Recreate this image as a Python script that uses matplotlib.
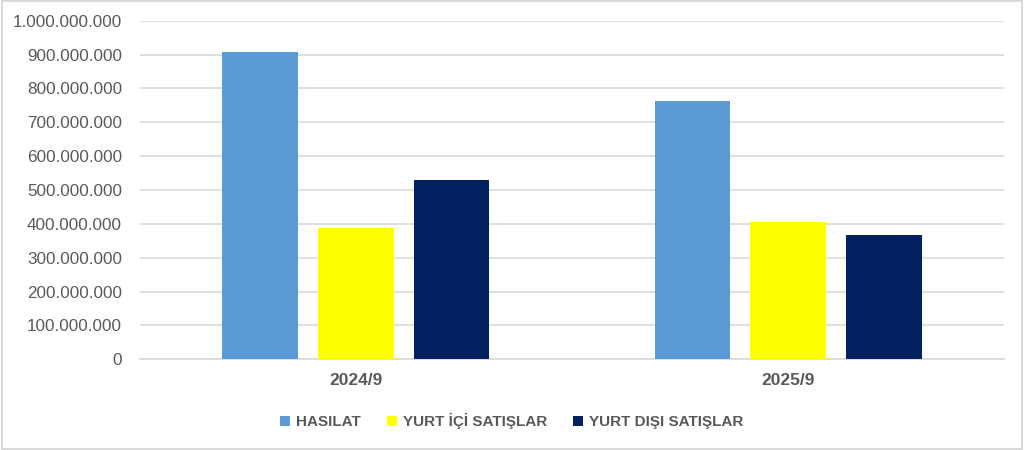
import matplotlib
matplotlib.use("Agg")
import matplotlib.pyplot as plt
from matplotlib.patches import Rectangle
from matplotlib.ticker import FuncFormatter, MultipleLocator
import numpy as np

CATEGORIES = ["2024/9", "2025/9"]
SERIES_NAMES = ["HASILAT", "YURT İÇİ SATIŞLAR", "YURT DIŞI SATIŞLAR"]
HASILAT = [907_000_000, 764_000_000]
YURT_ICI = [388_000_000, 405_000_000]
YURT_DISI = [529_000_000, 366_000_000]
COLORS = ["#5B9BD5", "#FFFF00", "#002060"]

TEXT_COLOR = "#595959"
GRID_COLOR = "#D9D9D9"


def dot_thousands(v, _pos):
    return f"{int(round(v)):,}".replace(",", ".")


def main() -> None:
    plt.rcParams["font.family"] = ["Liberation Sans", "DejaVu Sans"]

    fig = plt.figure(figsize=(10.24, 4.5), dpi=100)
    ax = fig.add_axes([0.1367, 0.2016, 0.8438, 0.7524])

    x = np.arange(len(CATEGORIES))
    width = 0.174
    step = 0.222
    all_series = [HASILAT, YURT_ICI, YURT_DISI]
    for i, (name, values, color) in enumerate(zip(SERIES_NAMES, all_series, COLORS)):
        ax.bar(x + (i - 1) * step, values, width=width, color=color,
               label=name, zorder=3)

    ax.set_xlim(-0.5, 1.5)
    ax.set_ylim(0, 1_000_000_000)
    ax.yaxis.set_major_locator(MultipleLocator(100_000_000))
    ax.yaxis.set_major_formatter(FuncFormatter(dot_thousands))
    ax.grid(axis="y", color=GRID_COLOR, linewidth=1.2, zorder=0)

    for side in ["top", "right", "left"]:
        ax.spines[side].set_visible(False)
    ax.spines["bottom"].set_color(GRID_COLOR)
    ax.spines["bottom"].set_linewidth(1.2)

    ax.set_xticks(x)
    ax.set_xticklabels(CATEGORIES, fontweight="bold")
    ax.tick_params(axis="both", length=0, colors=TEXT_COLOR)
    ax.tick_params(axis="x", pad=10, labelsize=12.5)
    ax.tick_params(axis="y", pad=13, labelsize=12.3)

    leg = fig.legend(loc="center", bbox_to_anchor=(0.5, 0.064), ncol=3,
                     frameon=False, handlelength=0.65, handleheight=0.65,
                     handletextpad=0.4, columnspacing=1.7,
                     prop={"weight": "bold", "size": 11})
    for t in leg.get_texts():
        t.set_color(TEXT_COLOR)

    fig.patches.append(Rectangle((0.002, 0.003), 0.996, 0.994,
                                 transform=fig.transFigure, fill=False,
                                 edgecolor=GRID_COLOR, linewidth=1.5))

    fig.savefig("out.png", dpi=100)
    plt.close(fig)


if __name__ == "__main__":
    main()
